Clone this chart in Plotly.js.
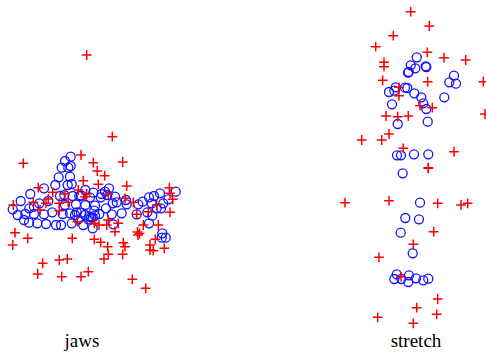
<!DOCTYPE html>
<html>
<head>
<meta charset="utf-8">
<script src="https://cdn.plot.ly/plotly-3.0.1.min.js"></script>
<style>html,body{margin:0;padding:0;background:#fff;}#chart{width:486px;height:354px;}</style>
</head>
<body>
<div id="chart"></div>
<script>
// Category tick labels
var categories = ["jaws", "stretch"];
var categoryPos = [82, 416];

// Blue circles (shape landmarks)
var circleX = [
  70.7,65,61.7,70.7,68.3,58.7,70,55.3,71.7,67.7,44,30.3,48.3,39.3,20.7,34,29.3,12.7,17.7,25.3,
  34,44,52.3,24,29,37.3,46,56,61,71.7,83.3,92.7,60,64.3,72.7,79.3,85.3,90,93.3,100.7,
  101.7,105,109,107.3,115,112.7,116.7,126,126.7,65,76,85.3,95,106,62.7,70,76.7,81,75,85,
  89.3,92.7,95,94.3,99.3,78.3,88.3,91,111.7,121.7,113.3,136.7,138.3,142.7,149,154,160,151.7,156.7,161,
  163.3,168.3,175.7,147.3,152.3,149,162.3,161.7,165.7,81,
  416.7,410.7,415.3,425.7,426.3,408,408.7,454,449.3,456,395.7,394.3,389,405,407.3,414.3,421.3,444.3,423.3,426.3,
  392,427.7,397.7,397,401,414,428.3,
  402.7,420,405.3,419,400.7,412.7,396.7,394.3,401.3,409,408.3,416,423.3,428.3
];
var circleY = [
  156.7,161,167.7,166,167.7,177.3,176.7,185,184,185,188.3,194,201,203.3,201,206.7,208.3,209.3,215,214,
  214,214.3,212.3,220,222.7,223.3,224,225,225,223.3,225,228.3,196,195,196,196,190,197.3,192.7,197.3,
  194,191.7,188.3,195,196.7,203.3,202.3,200,204.3,205,204.3,205,205.7,208.3,214,213.3,212.3,212.7,215,215,
  216.7,217.3,215.7,210.7,214,219.3,219.3,217.3,214.3,213.3,224.3,214.3,204.3,201.7,197.3,196,193.3,203.3,208.3,208.3,
  203.3,199.3,191.7,212.3,215.7,223.3,233.3,237.7,237.7,195.5,
  57.3,65.3,68.3,66.3,67,72.7,72,75.7,82.3,83.7,87.3,90.7,92,87.7,88,93.3,97.3,97.3,103.3,109,
  104.3,121.7,124,155.3,155.3,154.3,154.3,
  173.3,202.7,218,219.3,232.7,253.3,274.3,279,279,275.3,282,278.3,280.3,278.7
];

// Red plus signs
var plusX = [
  86.7,112.3,23.3,81,93.3,122.7,97.3,104.7,83.3,98.3,126.7,38.3,52.7,78.3,65,86.7,108.3,48.3,125,169.3,
  170,172.7,13.3,33.3,46,59.3,68.3,85,133.3,156.7,40,59.3,170,136.7,148.3,77.3,94.3,99,106.7,108.3,
  118.3,143.3,158.3,115,137.5,139.5,138,15,27.7,12.7,72.3,94.3,100.7,107.7,123.3,125,155.3,150,150,153.3,
  164.3,108.3,122.7,104,59.3,67.3,42.7,37.7,88.3,61.7,81,132.3,145.7,
  410.7,429.3,393.3,375.7,427.3,444,465.7,384,384,382.7,427.7,483.3,399,399,420,432.3,485,386,397.7,408.3,
  389,361.7,381.7,403.3,454,428.3,
  428.3,345,389,437.7,461,467.7,433.7,413.3,379,401,437.7,416.7,436.7,377.7,413.3
];
var plusY = [
  55,136.7,163.3,155,162.7,162,171,175.7,180.7,184.3,186,187.7,192.3,190,194,194,194.3,199,198.3,187.7,
  193.3,199.3,205,202.3,203.3,203.3,202.3,196.7,202.3,205,210,210.7,212.3,214.3,211.7,221.7,223.3,225,225,220,
  223.3,225,225,231.7,232,233.5,235,232.7,238.3,245,238.3,239.3,242.3,246.7,242.7,246.7,239.3,245,250,250.7,
  248.3,254.3,254.3,259,260,259,263.3,274,271.7,276.7,276.7,279.3,288.3,
  11.7,26,35.7,46.7,52.3,57.7,60,62.3,66.7,80.3,81.7,81.7,87.3,95.7,105.7,107.7,114,116,116.7,116,
  134,140,140,148.3,151.7,167.7,
  168.3,202.7,200.7,203.3,205,203.3,231.7,244.3,257.3,276.7,299,307.7,314.3,317.3,323.3
];

var traces = [
  {
    x: circleX, y: circleY, type: 'scatter', mode: 'markers',
    marker: {symbol: 'circle-open', size: 9, color: 'rgb(20,20,255)', line: {width: 1.3, color: 'rgb(20,20,255)'}},
    hoverinfo: 'skip', showlegend: false, cliponaxis: false
  },
  {
    x: plusX, y: plusY, type: 'scatter', mode: 'markers',
    marker: {symbol: 'cross-thin-open', size: 7, color: 'rgb(255,0,0)', line: {width: 1.5, color: 'rgb(255,0,0)'}},
    hoverinfo: 'skip', showlegend: false, cliponaxis: false
  }
];

var layout = {
  width: 486, height: 354,
  margin: {l: 0, r: 0, t: 0, b: 30},
  paper_bgcolor: '#fff', plot_bgcolor: '#fff',
  xaxis: {
    range: [0, 486], showgrid: false, zeroline: false, showline: false,
    tickmode: 'array', tickvals: categoryPos, ticktext: categories, ticks: '',
    tickfont: {family: 'Liberation Serif', size: 19, color: '#000'},
    ticklabelstandoff: 3
  },
  yaxis: {
    range: [324, 0], showgrid: false, zeroline: false, showline: false,
    showticklabels: false, ticks: ''
  },
  showlegend: false
};

Plotly.newPlot('chart', traces, layout, {staticPlot: true, displayModeBar: false});
</script>
</body>
</html>
